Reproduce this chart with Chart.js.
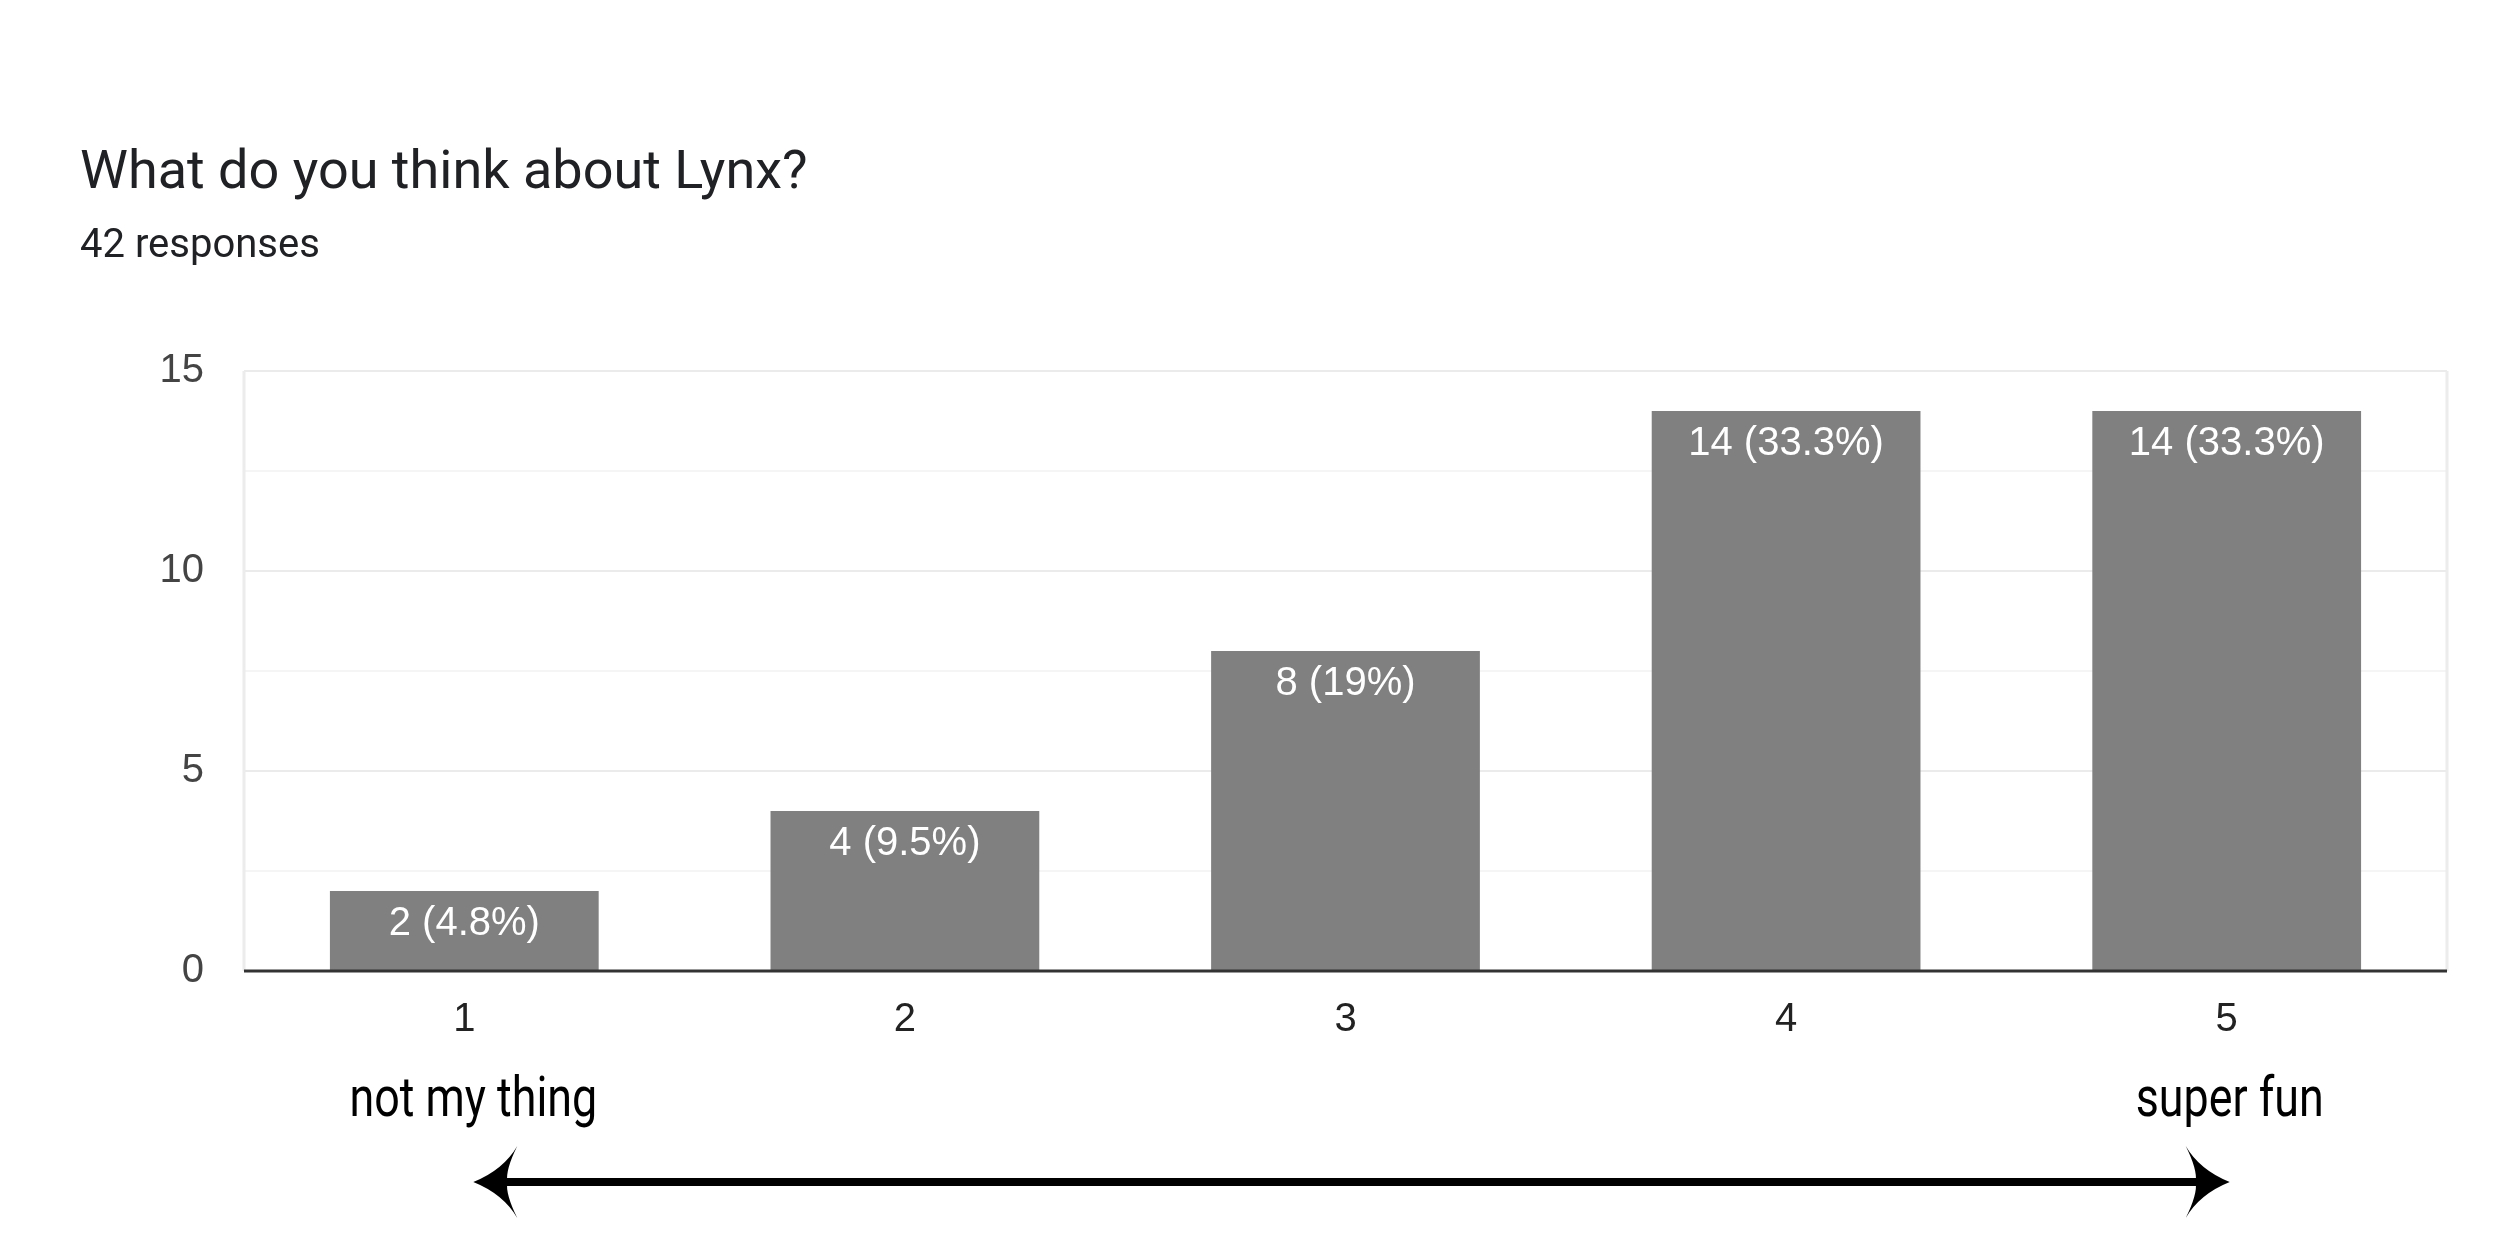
<!DOCTYPE html>
<html>
<head>
<meta charset="utf-8">
<script src="https://cdn.jsdelivr.net/npm/chart.js@4.4.0/dist/chart.umd.min.js"></script>
<style>
  html, body { margin: 0; padding: 0; background: #fff; }
</style>
</head>
<body>
<canvas id="myChart" width="2500" height="1250"></canvas>
<script>
var titleText = "What do you think about Lynx?";
var subtitleText = "42 responses";
var categories = ["1", "2", "3", "4", "5"];
var counts = [2, 4, 8, 14, 14];
var percentLabels = ["4.8%", "9.5%", "19%", "33.3%", "33.3%"];
var yTickLabels = [0, 5, 10, 15];
var endLabels = ["not my thing", "super fun"];

// draws borders, baseline, bar labels, titles and the arrow under the axis
var extras = {
    id: 'extras',
    beforeDatasetsDraw: function(chart) {
        var ctx = chart.ctx, a = chart.chartArea;
        ctx.save();
        ctx.strokeStyle = '#ececec';
        ctx.lineWidth = 3;
        ctx.beginPath();
        ctx.moveTo(a.left, a.top); ctx.lineTo(a.left, a.bottom);
        ctx.moveTo(a.right, a.top); ctx.lineTo(a.right, a.bottom);
        ctx.stroke();
        ctx.restore();
    },
    afterDatasetsDraw: function(chart) {
        var ctx = chart.ctx, a = chart.chartArea;
        var y0 = chart.scales.y.getPixelForValue(0);
        ctx.save();
        ctx.strokeStyle = '#333';
        ctx.lineWidth = 3;
        ctx.beginPath();
        ctx.moveTo(a.left, y0); ctx.lineTo(a.right, y0);
        ctx.stroke();

        ctx.fillStyle = '#fff';
        ctx.font = '40px Arial, "Liberation Sans"';
        ctx.textAlign = 'center';
        ctx.textBaseline = 'middle';
        chart.getDatasetMeta(0).data.forEach(function(bar, i) {
            ctx.fillText(counts[i] + ' (' + percentLabels[i] + ')', bar.x, bar.y + 33);
        });
        ctx.restore();
    },
    afterDraw: function(chart) {
        var ctx = chart.ctx;
        ctx.save();
        ctx.fillStyle = '#202124';
        ctx.textAlign = 'left';
        ctx.textBaseline = 'alphabetic';
        ctx.font = '54px Roboto';
        ctx.fillText(titleText, 80, 188);
        ctx.font = '40px Roboto';
        ctx.fillText(subtitleText, 80, 257);

        var xs = chart.scales.x;
        var leftTip = xs.getPixelForValue(0) + 9;
        var rightTip = xs.getPixelForValue(categories.length - 1) + 3;

        ctx.fillStyle = '#000';
        ctx.font = '56px Roboto';
        ctx.textAlign = 'center';
        [[endLabels[0], leftTip], [endLabels[1], rightTip]].forEach(function(t) {
            ctx.save();
            ctx.translate(t[1], 1116);
            ctx.scale(0.8, 1);
            ctx.fillText(t[0], 0, 0);
            ctx.restore();
        });

        var ay = 1182;
        ctx.strokeStyle = '#000';
        ctx.lineWidth = 8;
        ctx.beginPath();
        ctx.moveTo(leftTip + 20, ay); ctx.lineTo(rightTip - 20, ay);
        ctx.stroke();
        drawHead(ctx, leftTip, ay, 1);
        drawHead(ctx, rightTip, ay, -1);
        ctx.restore();
    }
};

function drawHead(ctx, x, y, dir) {
    ctx.beginPath();
    ctx.moveTo(x, y);
    ctx.quadraticCurveTo(x + dir * 30, y - 12, x + dir * 44, y - 36);
    ctx.quadraticCurveTo(x + dir * 32, y - 12, x + dir * 34, y);
    ctx.quadraticCurveTo(x + dir * 32, y + 12, x + dir * 44, y + 36);
    ctx.quadraticCurveTo(x + dir * 30, y + 12, x, y);
    ctx.closePath();
    ctx.fill();
}

const ctx = document.getElementById('myChart');
const myChart = new Chart(ctx, {
    type: 'bar',
    data: {
        labels: categories,
        datasets: [{
            data: counts,
            backgroundColor: '#808080',
            borderWidth: 0,
            barPercentage: 0.61,
            categoryPercentage: 1
        }]
    },
    options: {
        responsive: false,
        animation: false,
        events: [],
        layout: { padding: { top: 371, left: 80, right: 53, bottom: 0 } },
        plugins: {
            legend: { display: false },
            tooltip: { enabled: false }
        },
        scales: {
            x: {
                grid: { display: false },
                border: { display: false },
                ticks: {
                    color: '#222',
                    font: { family: 'Arial, "Liberation Sans"', size: 40 },
                    padding: 17
                },
                afterFit: function(scale) { scale.height = 279; }
            },
            y: {
                min: 0,
                max: 15,
                border: { display: false },
                grid: {
                    drawTicks: false,
                    lineWidth: 2,
                    color: function(c) {
                        if (c.tick.value === 0) return 'rgba(0,0,0,0)';
                        return c.tick.value % 5 === 0 ? '#ebebeb' : '#f5f5f5';
                    }
                },
                ticks: {
                    stepSize: 2.5,
                    color: '#444',
                    font: { family: 'Arial, "Liberation Sans"', size: 40 },
                    padding: 40,
                    callback: function(v) { return yTickLabels.indexOf(v) >= 0 ? v : ''; }
                },
                afterFit: function(scale) { scale.width = 164; }
            }
        }
    },
    plugins: [extras]
});
</script>
</body>
</html>
